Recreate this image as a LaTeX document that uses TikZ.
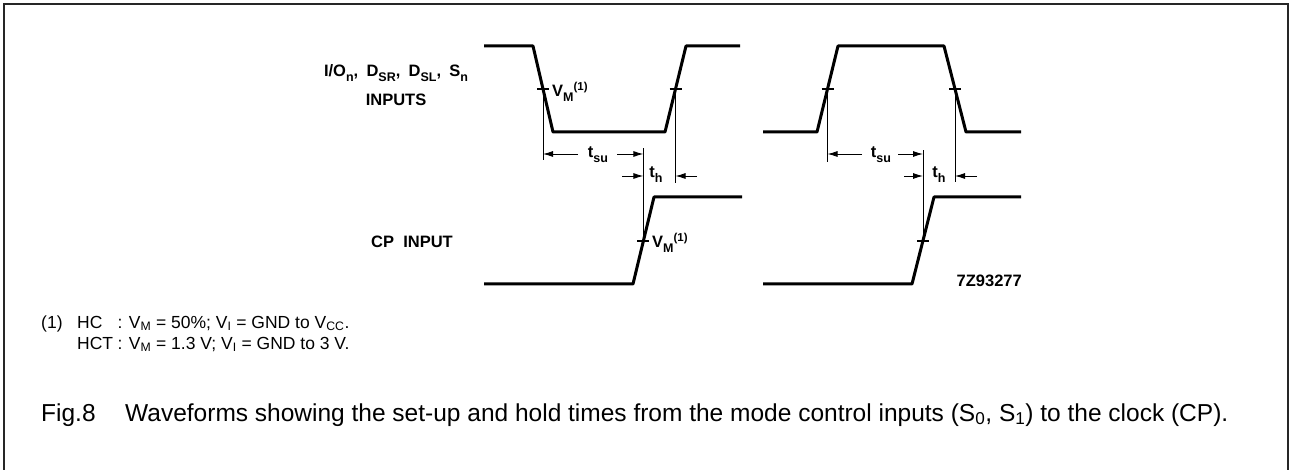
\documentclass[tikz,border=0pt]{standalone}
\usepackage{fontspec}
\setmainfont{Liberation Sans}
\usetikzlibrary{arrows.meta,positioning}

% lowered and raised parts of the signal labels
\newcommand\lo[1]{\raisebox{-0.55ex}{\fontsize{12.5}{13}\selectfont #1}}
\newcommand\hi[1]{\raisebox{0.75ex}{\fontsize{11.5}{12}\selectfont #1}}

\begin{document}
\begin{tikzpicture}[x=1pt,y=-1pt,
        wave/.style={line width=3pt,line join=bevel},
        dimline/.style={line width=0.9pt},
        vmtick/.style={line width=1.8pt},
        dimarrow/.style={dimline,-{Latex[length=10pt,width=6pt]}},
        sig/.style={font=\fontsize{16.5}{18}\selectfont\bfseries,inner sep=0pt},
        note/.style={font=\fontsize{17.5}{20}\selectfont,inner sep=0pt,anchor=base west},
        captext/.style={font=\fontsize{24.5}{28}\selectfont,inner sep=0pt,anchor=base west}]

  \useasboundingbox (0,0) rectangle (1290,470);
  \draw[line width=2pt,black!85] (4,470) -- (4,4) -- (1288,4) -- (1288,470);

  % waveforms
  \draw[wave] (484,46) -- (533,46) -- (553,132) -- (665,132) -- (686,46) -- (740,46);
  \draw[wave] (763,132) -- (817,132) -- (838,46) -- (944,46) -- (966,132) -- (1021,132);
  \draw[wave] (484,284) -- (633,284) -- (654,197) -- (742,197);
  \draw[wave] (763,284) -- (912,284) -- (934,197) -- (1021,197);

  % V_M crossings
  \coordinate (a1) at (543,89);
  \coordinate (a2) at (675.5,89);
  \coordinate (b1) at (827.5,89);
  \coordinate (b2) at (955,89);
  \coordinate (c1) at (643.4,241);
  \coordinate (c2) at (923,241);
  \foreach \p in {a1,a2,b1,b2,c1,c2}
    \draw[vmtick] ([xshift=-6pt]\p) -- ([xshift=6pt]\p);

  % ends of the reference lines
  \coordinate (a1e) at (543,160);
  \coordinate (a2e) at (675.5,183);
  \coordinate (c1e) at (643.4,148);
  \coordinate (b1e) at (827.5,162);
  \coordinate (b2e) at (955,182);
  \coordinate (c2e) at (923,150);

  \path[dimline] (a1) edge (a1e)
                 (a2) edge (a2e)
                 (c1) edge (c1e)
                 (b1) edge (b1e)
                 (b2) edge (b2e)
                 (c2) edge (c2e);

  % signal names
  \node[sig,anchor=base] (io) at (396,77)
    {I/O\lo{n},\hspace{0.5em}D\lo{SR},\hspace{0.5em}D\lo{SL},\hspace{0.5em}S\lo{n}};
  \node[sig,below=29pt of io.base,anchor=base] (inp) {INPUTS};
  \node[sig,anchor=base] (cp) at (412,248) {CP\ \ INPUT};
  \node[sig,anchor=base east] (code) at (1022,287) {7Z93277};
  \node[sig,anchor=base west] (vm1) at (552,97) {V\lo{M}\hi{(1)}};
  \node[sig,anchor=base west] (vm2) at (652,248) {V\lo{M}\hi{(1)}};

  % timing labels
  \node[sig,anchor=base] (tsu1) at (598,158) {t\lo{su}};
  \node[sig,anchor=base] (th1) at (656,178) {t\lo{h}};
  \node[sig,anchor=base] (tsu2) at (881,158) {t\lo{su}};
  \node[sig,anchor=base] (th2) at (939,178) {t\lo{h}};

  \coordinate (suL1) at (578,154);
  \coordinate (suR1) at (617,154);
  \coordinate (hL1) at (622,176);
  \coordinate (hR1) at (697,176);
  \coordinate (suL2) at (862,154);
  \coordinate (suR2) at (898,154);
  \coordinate (hL2) at (904,176);
  \coordinate (hR2) at (977,176);

  \draw[dimarrow] (suL1) -- (a1 |- suL1);
  \draw[dimarrow] (suR1) -- (c1 |- suR1);
  \draw[dimarrow] (hL1) -- (c1 |- hL1);
  \draw[dimarrow] (hR1) -- (a2 |- hR1);
  \draw[dimarrow] (suL2) -- (b1 |- suL2);
  \draw[dimarrow] (suR2) -- (c2 |- suR2);
  \draw[dimarrow] (hL2) -- (c2 |- hL2);
  \draw[dimarrow] (hR2) -- (b2 |- hR2);

  % note
  \node[note] (fn) at (41,328) {(1)};
  \node[note] (hc) at (77,328) {HC};
  \node[note] (hct) at (77,349) {HCT};
  \node[note,right=4pt of hct.base east,anchor=base west] (hctv)
    {: V\textsubscript{M} = 1.3 V; V\textsubscript{I} = GND to 3 V.};
  \node[note] (hcv) at (hctv.base west |- hc.base)
    {: V\textsubscript{M} = 50\%; V\textsubscript{I} = GND to V\textsubscript{CC}.};

  % caption
  \node[captext] (fig) at (41,421) {Fig.8};
  \node[captext] (title) at (125,421)
    {Waveforms showing the set-up and hold times from the mode control inputs (S\textsubscript{0}, S\textsubscript{1}) to the clock (CP).};

\end{tikzpicture}
\end{document}
